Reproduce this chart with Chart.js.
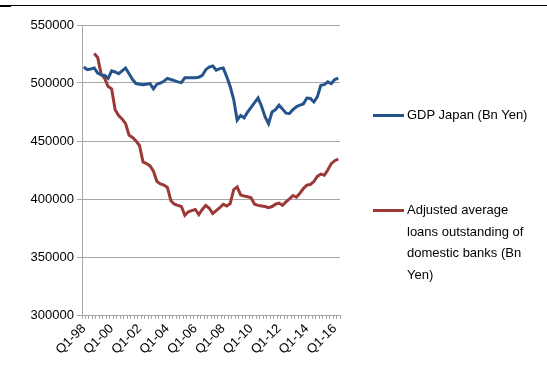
<!DOCTYPE html>
<html>
<head>
<meta charset="utf-8">
<script src="https://cdn.jsdelivr.net/npm/chart.js@4/dist/chart.umd.min.js"></script>
<style>
  body { margin: 0; background: #fff; font-family: "Liberation Sans", Arial, sans-serif; }
  #wrap { position: relative; width: 547px; height: 391px; }
  #topRule { position: absolute; left: 0; top: 5px; width: 547px; height: 1px; background: #000; }
  #topRuleTab { position: absolute; left: 0; top: 5px; width: 11px; height: 2px; background: #000; }
  canvas { position: absolute; left: 0; top: 0; }
  .leg { position: absolute; left: 373px; font-size: 13px; color: #000; }
  .leg .swatch { position: absolute; left: 0; width: 31px; height: 3px; }
  .leg .txt { position: absolute; left: 34px; width: 140px; line-height: 21.5px; white-space: nowrap; }
</style>
</head>
<body>
<div id="wrap">
  <div id="topRule"></div>
  <div id="topRuleTab"></div>
  <canvas id="gdpChart" width="547" height="391"></canvas>
  <div class="leg" style="top:115px">
    <div class="swatch" style="top:-1px;background:#24548a"></div>
    <div class="txt" style="top:-11px">GDP Japan (Bn Yen)</div>
  </div>
  <div class="leg" style="top:210px">
    <div class="swatch" style="top:-1px;background:#9a3936"></div>
    <div class="txt" style="top:-11px">Adjusted average<br>loans outstanding of<br>domestic banks (Bn<br>Yen)</div>
  </div>
</div>
<script>
// quarters Q1-98 .. Q2-16
const quarters = [];
for (let y = 1998; y <= 2016; y++) {
  for (let q = 1; q <= 4; q++) {
    if (y === 2016 && q > 2) break;
    quarters.push('Q' + q + '-' + String(y).slice(2));
  }
}

const gdp = [
  513800, 511500, 512000, 513000, 508500, 507000, 506600, 504000,
  510500, 509500, 508000, 510500, 513000, 508000, 503000, 499500,
  499000, 498600, 499000, 499500, 495000, 499000, 500000, 501500,
  504000, 503000, 502000, 501000, 500300, 504500, 504600, 504600,
  504600, 505000, 506500, 511500, 513700, 514700, 511000, 512400,
  513000, 505500, 497000, 486000, 468000, 472000, 470000, 475000,
  479000, 483000, 487000, 480000, 471000, 465000, 475000, 477000,
  481000, 477700, 474000, 473700, 477000, 479500, 481000, 482000,
  487000, 486600, 483600, 488000, 498000, 498600, 501000, 499500,
  503000, 504300
];

const loans = [
  null, null, null, 525500, 522000, 507500, 504000, 497000,
  495000, 477000, 472000, 469000, 465000, 455000, 453000, 450000,
  446000, 432000, 430500, 428500, 424000, 415000, 413000, 412000,
  410000, 398500, 395500, 394500, 393500, 386000, 389000, 390000,
  391000, 386600, 391000, 394500, 392000, 387500, 390000, 392500,
  395500, 394000, 396000, 408000, 410500, 403500, 402500, 402000,
  401000, 395500, 394500, 394000, 393500, 392500, 393500, 395500,
  396500, 394500, 397500, 400000, 403000, 401500, 405000, 409000,
  412000, 412500, 415000, 419500, 421500, 420500, 425000, 430500,
  433000, 434500
];

const yTicks = [300000, 350000, 400000, 450000, 500000, 550000];

const ctx = document.getElementById('gdpChart').getContext('2d');

new Chart(ctx, {
  type: 'line',
  data: {
    labels: quarters,
    datasets: [
      {
        label: 'GDP Japan (Bn Yen)',
        data: gdp,
        borderColor: '#24548a',
        borderWidth: 3,
        pointRadius: 0,
        tension: 0
      },
      {
        label: 'Adjusted average loans outstanding of domestic banks (Bn Yen)',
        data: loans,
        borderColor: '#9a3936',
        borderWidth: 3,
        pointRadius: 0,
        tension: 0
      }
    ]
  },
  options: {
    responsive: false,
    animation: false,
    layout: { padding: { left: 0, right: 207, top: 25, bottom: 0 } },
    plugins: {
      legend: { display: false },
      tooltip: { enabled: false }
    },
    scales: {
      x: {
        offset: true,
        grid: {
          offset: true,
          drawOnChartArea: false,
          drawTicks: true,
          tickLength: 4,
          color: '#a6a6a6'
        },
        border: { color: '#a6a6a6' },
        ticks: {
          autoSkip: false,
          minRotation: 45,
          maxRotation: 45,
          padding: 2,
          color: '#000',
          font: { family: 'Liberation Sans', size: 13 },
          callback: (v, i) => (i % 8 === 0 ? quarters[i] : '')
        },
        afterFit: s => { s.height = 76; }
      },
      y: {
        min: yTicks[0],
        max: yTicks[yTicks.length - 1],
        afterBuildTicks: s => { s.ticks = yTicks.map(v => ({ value: v })); },
        grid: { color: '#a6a6a6', tickLength: 5 },
        border: { color: '#a6a6a6' },
        ticks: {
          padding: 3,
          color: '#000',
          font: { family: 'Liberation Sans', size: 13 },
          callback: v => String(v)
        },
        afterFit: s => { s.width = 82; }
      }
    }
  }
});
</script>
</body>
</html>
